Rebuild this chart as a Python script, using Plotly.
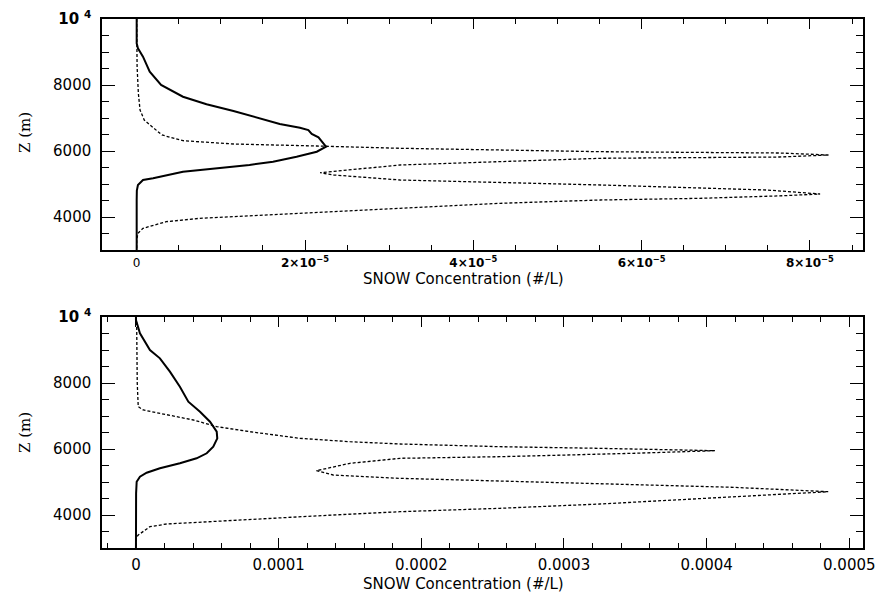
import plotly.graph_objects as go

# ---------------- data ----------------
# Top panel (values in #/L)
top_solid_z = [10000, 9264, 9112, 8858, 8403, 8000, 7645, 7415, 7212, 7020, 6818, 6706, 6636,
               6515, 6415, 6130, 5979, 5827, 5676, 5576, 5476, 5373, 5173, 5121, 4970, 4800,
               4500, 3000]
top_solid_v = [0, 0, 0.15e-6, 0.75e-6, 1.55e-6, 2.9e-6, 5.5e-6, 8.3e-6, 11.5e-6, 14.2e-6,
               17.0e-6, 19.4e-6, 20.4e-6, 20.8e-6, 21.6e-6, 22.5e-6, 21.4e-6, 19.0e-6, 16.2e-6,
               13.4e-6, 9.5e-6, 5.5e-6, 1.95e-6, 0.75e-6, 0.15e-6, 0.02e-6, 0, 0]

top_dash_z = [10000, 9200, 8555, 7750, 7242, 6939, 6736, 6485, 6312, 6212, 6151, 6082, 5979,
              5939, 5879, 5818, 5779, 5576, 5343, 5273, 5121, 4970, 4818, 4697, 4640, 4566,
              4515, 4415, 4263, 4161, 4060, 3960, 3858, 3657, 3505, 3300, 3000]
top_dash_v = [0, 0, 0.05e-6, 0.2e-6, 0.4e-6, 0.9e-6, 1.9e-6, 3.0e-6, 5.5e-6, 11.5e-6, 21.4e-6,
              31.3e-6, 55.1e-6, 76.4e-6, 82.2e-6, 76.4e-6, 55.1e-6, 31.3e-6, 21.8e-6, 23.4e-6,
              31.3e-6, 55.1e-6, 74.9e-6, 81.2e-6, 76.4e-6, 66.9e-6, 55.1e-6, 43.2e-6, 31.3e-6,
              23.4e-6, 15.4e-6, 7.5e-6, 3.5e-6, 0.75e-6, 0.15e-6, 0, 0]

# Bottom panel (values in #/L)
bot_solid_z = [10000, 9909, 9505, 9000, 8748, 8343, 7888, 7433, 7130, 6827, 6524, 6324, 6070,
               5870, 5718, 5567, 5415, 5282, 5161, 5009, 4655, 3000]
bot_solid_v = [0, 0, 2.8e-6, 9.8e-6, 16.8e-6, 23.8e-6, 30.8e-6, 36.7e-6, 44.9e-6, 51.9e-6,
               56.6e-6, 57.0e-6, 54.2e-6, 49.6e-6, 42.5e-6, 30.8e-6, 16.8e-6, 7.5e-6, 2.8e-6,
               0.5e-6, 0.1e-6, 0]

bot_dash_z = [10000, 9800, 8000, 7400, 7282, 7182, 7030, 6879, 6676, 6524, 6324, 6221, 6152,
              6070, 6020, 5949, 5869, 5767, 5718, 5567, 5343, 5212, 5111, 4961, 4839, 4706,
              4606, 4506, 4333, 4203, 4100, 4000, 3899, 3797, 3727, 3646, 3494, 3394, 3300, 3000]
bot_dash_v = [0, 0.5e-6, 0.9e-6, 1.2e-6, 1.6e-6, 5.1e-6, 21.5e-6, 40.2e-6, 56.6e-6, 79.9e-6,
              114.9e-6, 150e-6, 185e-6, 255.1e-6, 325.2e-6, 405.8e-6, 348.3e-6, 255.1e-6,
              185e-6, 150e-6, 126.5e-6, 138.2e-6, 185e-6, 325.2e-6, 418.6e-6, 485.2e-6,
              442.3e-6, 395.4e-6, 325.2e-6, 255.1e-6, 185e-6, 138.2e-6, 91.5e-6, 44.8e-6,
              21.5e-6, 9.8e-6, 5.1e-6, 1.6e-6, 0, 0]

# tick labels
y_tickvals = [4000, 6000, 8000, 10000]
y_ticktext = ["4000", "6000", "8000", "<b>10</b> <sup><b>4</b></sup>"]
top_x_tickvals = [0, 2e-5, 4e-5, 6e-5, 8e-5]
top_x_ticktext = ["0", "<b>2×10<sup>−5</sup></b>", "<b>4×10<sup>−5</sup></b>",
                  "<b>6×10<sup>−5</sup></b>", "<b>8×10<sup>−5</sup></b>"]
bot_x_tickvals = [0, 0.0001, 0.0002, 0.0003, 0.0004, 0.0005]
bot_x_ticktext = ["0", "0.0001", "0.0002", "0.0003", "0.0004", "0.0005"]

x_title = "SNOW Concentration (#/L)"
y_title = "Z (m)"

# ---------------- figure ----------------
W, H = 878, 594
FONT = "DejaVu Sans"
fig = go.Figure()

solid = dict(color="black", width=2)
dashed = dict(color="black", width=1.3, dash="3px,2px")

fig.add_trace(go.Scatter(x=top_solid_v, y=top_solid_z, mode="lines", line=solid,
                         xaxis="x", yaxis="y", showlegend=False))
fig.add_trace(go.Scatter(x=top_dash_v, y=top_dash_z, mode="lines", line=dashed,
                         xaxis="x", yaxis="y", showlegend=False))
fig.add_trace(go.Scatter(x=bot_solid_v, y=bot_solid_z, mode="lines", line=solid,
                         xaxis="x2", yaxis="y2", showlegend=False))
fig.add_trace(go.Scatter(x=bot_dash_v, y=bot_dash_z, mode="lines", line=dashed,
                         xaxis="x2", yaxis="y2", showlegend=False))

xdom = [102 / W, 863 / W]
top_dom = [1 - 250 / H, 1 - 19 / H]
bot_dom = [1 - 548 / H, 1 - 317 / H]

common_axis = dict(showline=True, linecolor="black", linewidth=1.5, mirror="allticks",
                   ticks="inside", tickcolor="black", tickwidth=1.2, showgrid=False,
                   zeroline=False, tickmode="array", automargin=False)

fig.update_layout(
    template="none",
    width=W, height=H, margin=dict(l=0, r=0, t=0, b=0, autoexpand=False),
    paper_bgcolor="white", plot_bgcolor="white",
    font=dict(family=FONT, color="black"),
    xaxis=dict(common_axis, domain=xdom, anchor="y", range=[-4.12e-6, 8.63e-5],
               tickvals=top_x_tickvals, ticktext=top_x_ticktext, ticklen=10,
               tickfont=dict(size=12, family=FONT), ticklabelstandoff=1,
               minor=dict(dtick=5e-6, tick0=0, ticklen=5, ticks="inside", tickcolor="black")),
    yaxis=dict(common_axis, domain=top_dom, anchor="x", range=[3000, 10000],
               tickvals=y_tickvals, ticktext=y_ticktext, ticklen=13,
               tickfont=dict(size=15, family=FONT), ticklabelstandoff=6,
               minor=dict(dtick=500, tick0=0, ticklen=7, ticks="inside", tickcolor="black")),
    xaxis2=dict(common_axis, domain=xdom, anchor="y2", range=[-2.38e-5, 5.096e-4],
                tickvals=bot_x_tickvals, ticktext=bot_x_ticktext, ticklen=10,
                tickfont=dict(size=15, family=FONT), ticklabelstandoff=2,
                minor=dict(dtick=2e-5, tick0=0, ticklen=5, ticks="inside", tickcolor="black")),
    yaxis2=dict(common_axis, domain=bot_dom, anchor="x2", range=[3000, 10000],
                tickvals=y_tickvals, ticktext=y_ticktext, ticklen=13,
                tickfont=dict(size=15, family=FONT), ticklabelstandoff=6,
                minor=dict(dtick=500, tick0=0, ticklen=7, ticks="inside", tickcolor="black")),
)

# axis titles as annotations (positioned in paper coords)
for yc in [279, 584]:
    fig.add_annotation(text=x_title, x=463 / W, y=1 - yc / H, xref="paper", yref="paper",
                       showarrow=False, font=dict(size=15, family=FONT, color="black"),
                       xanchor="center", yanchor="middle")
for yc in [133, 433]:
    fig.add_annotation(text=y_title, x=25 / W, y=1 - yc / H, xref="paper", yref="paper",
                       showarrow=False, textangle=-90,
                       font=dict(size=15, family="DejaVu Serif", color="black"),
                       xanchor="center", yanchor="middle")

fig.write_html("out.html")
